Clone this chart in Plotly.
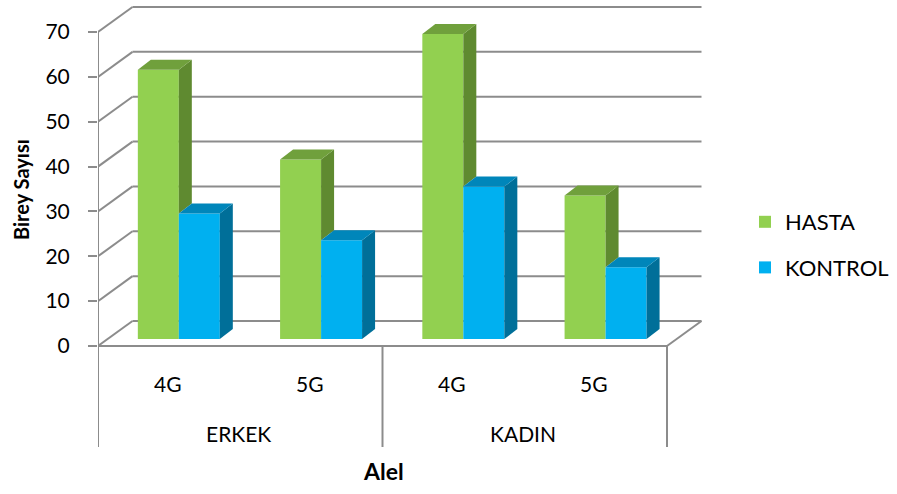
import plotly.graph_objects as go

# ---- data ----
subgroups = ["4G", "5G", "4G", "5G"]
groups = ["ERKEK", "KADIN"]
series_names = ["HASTA", "KONTROL"]
hasta = [60, 40, 68, 32]
kontrol = [28, 22, 34, 16]
y_ticks = [0, 10, 20, 30, 40, 50, 60, 70]

# ---- styling ----
FONT = "Lato"
TEXT = "#000000"
GRID = "#8c8c8c"
front_cols = ["#92D050", "#00B0F0"]
top_cols = ["#70A03C", "#0086BA"]
side_cols = ["#5F8A30", "#006F99"]

W, H = 897, 494
PX_L, PX_R = 98, 703          # plot area, horizontal pixels
PX_T, PX_B = 4, 447           # plot area, vertical pixels
PX_Y0, PX_Y70 = 346, 32       # pixel rows of value 0 and 70 on the front axis
BAND_PX = (667 - PX_L) / 4    # width of one category band on the front edge

py = (PX_Y0 - PX_Y70) / 70.0  # pixels per value unit
ux = 1.0 / BAND_PX            # x units per pixel
uy = 1.0 / py                 # y units per pixel

x_lo = -0.5
x_hi = x_lo + (PX_R - PX_L) * ux
y_hi = (PX_Y0 - PX_T) * uy
y_lo = -(PX_B - PX_Y0) * uy


def paper_x(px):
    return (px - PX_L) / (PX_R - PX_L)


def paper_y(px):
    return (PX_B - px) / (PX_B - PX_T)


# oblique offsets of the back wall and of the bars
wall_dx, wall_dy = 34.5 * ux, 25 * uy
bar_front_dx, bar_front_dy = 9.7 * ux, 7 * uy
bar_dx, bar_dy = 13 * ux, 10 * uy
bar_w = 41 * ux

xs = list(range(len(subgroups)))
fig = go.Figure()

# front faces
for k, (name, vals) in enumerate(zip(series_names, [hasta, kontrol])):
    offset = bar_front_dx - bar_w if k == 0 else bar_front_dx
    fig.add_trace(go.Bar(
        x=xs, y=vals, base=[bar_front_dy] * len(vals), name=name,
        width=bar_w, offset=offset, marker=dict(color=front_cols[k], line=dict(width=0)),
        legendgroup=name, hovertemplate=name + ": %{y}<extra></extra>",
    ))

# tops and sides
for i in xs:
    for k, vals in enumerate([hasta, kontrol]):
        v = vals[i]
        x0 = i + bar_front_dx - (bar_w if k == 0 else 0)
        x1 = x0 + bar_w
        b = bar_front_dy
        t = b + v
        # side face; the HASTA side is hidden below the KONTROL top edge
        s0 = b + kontrol[i] if k == 0 else b
        fig.add_trace(go.Scatter(
            x=[x1, x1, x1 + bar_dx, x1 + bar_dx, x1],
            y=[s0, t, t + bar_dy, s0 + bar_dy, s0],
            fill="toself", fillcolor=side_cols[k], mode="lines",
            line=dict(width=0, color=side_cols[k]), showlegend=False, hoverinfo="skip",
        ))
        fig.add_trace(go.Scatter(
            x=[x0, x1, x1 + bar_dx, x0 + bar_dx, x0],
            y=[t, t, t + bar_dy, t + bar_dy, t],
            fill="toself", fillcolor=top_cols[k], mode="lines",
            line=dict(width=0, color=top_cols[k]), showlegend=False, hoverinfo="skip",
        ))

shapes = []
gl = dict(color=GRID, width=2)
# back wall gridlines and left wall diagonals
for v in y_ticks:
    shapes.append(dict(type="line", xref="x", yref="y", layer="below",
                       x0=x_lo + wall_dx, x1=3.5 + wall_dx, y0=v + wall_dy, y1=v + wall_dy, line=gl))
    shapes.append(dict(type="line", xref="x", yref="y", layer="below",
                       x0=x_lo, x1=x_lo + wall_dx, y0=v, y1=v + wall_dy, line=gl))
# floor front edge and right edge
shapes.append(dict(type="line", xref="x", yref="y", layer="below",
                   x0=x_lo, x1=3.5, y0=0, y1=0, line=gl))
shapes.append(dict(type="line", xref="x", yref="y", layer="below",
                   x0=3.5, x1=3.5 + wall_dx, y0=0, y1=wall_dy, line=gl))
# value axis line and group dividers
shapes.append(dict(type="line", xref="x", yref="y", layer="below",
                   x0=x_lo, x1=x_lo, y0=y_ticks[-1], y1=y_lo, line=gl))
for xd in [1.5, 3.5]:
    shapes.append(dict(type="line", xref="x", yref="y", layer="below",
                       x0=xd, x1=xd, y0=0, y1=y_lo, line=gl))

cat_font = dict(family=FONT, size=21, color=TEXT)
annotations = []
for i, lab in enumerate(subgroups):
    annotations.append(dict(x=i - 1.5 * ux, y=-37 * uy, xref="x", yref="y", text=lab,
                            showarrow=False, font=cat_font))
for j, lab in enumerate(groups):
    annotations.append(dict(x=2 * j + 0.5 - 1.5 * ux, y=-87 * uy, xref="x", yref="y", text=lab,
                            showarrow=False, font=cat_font))
annotations.append(dict(x=paper_x(383), y=paper_y(471), xref="paper", yref="paper",
                        text="<b>Alel</b>", showarrow=False, xanchor="center", yanchor="middle",
                        font=dict(family=FONT, size=23, color=TEXT)))
annotations.append(dict(x=paper_x(21), y=paper_y(190), xref="paper", yref="paper",
                        text="<b>Birey Sayısı</b>", textangle=-90, showarrow=False,
                        xanchor="center", yanchor="middle",
                        font=dict(family=FONT, size=20, color=TEXT)))

fig.update_layout(
    width=W, height=H,
    margin=dict(l=PX_L, r=W - PX_R, t=PX_T, b=H - PX_B, pad=0, autoexpand=False),
    paper_bgcolor="white", plot_bgcolor="white",
    barmode="overlay", showlegend=True,
    xaxis=dict(range=[x_lo, x_hi], showgrid=False, zeroline=False, showticklabels=False,
               ticks="", showline=False, fixedrange=True),
    yaxis=dict(range=[y_lo, y_hi], showgrid=False, zeroline=False, showline=False,
               tickvals=y_ticks, ticktext=[str(v) for v in y_ticks], ticks="outside",
               ticklen=9, tickwidth=2, tickcolor=GRID, ticklabelstandoff=14,
               tickfont=dict(family=FONT, size=21, color=TEXT), fixedrange=True),
    legend=dict(x=paper_x(745), y=paper_y(201),
                xanchor="left", yanchor="top", traceorder="grouped", tracegroupgap=14,
                font=dict(family=FONT, size=22, color=TEXT), bgcolor="rgba(0,0,0,0)"),
    shapes=shapes, annotations=annotations,
)

fig.write_html("out.html")
